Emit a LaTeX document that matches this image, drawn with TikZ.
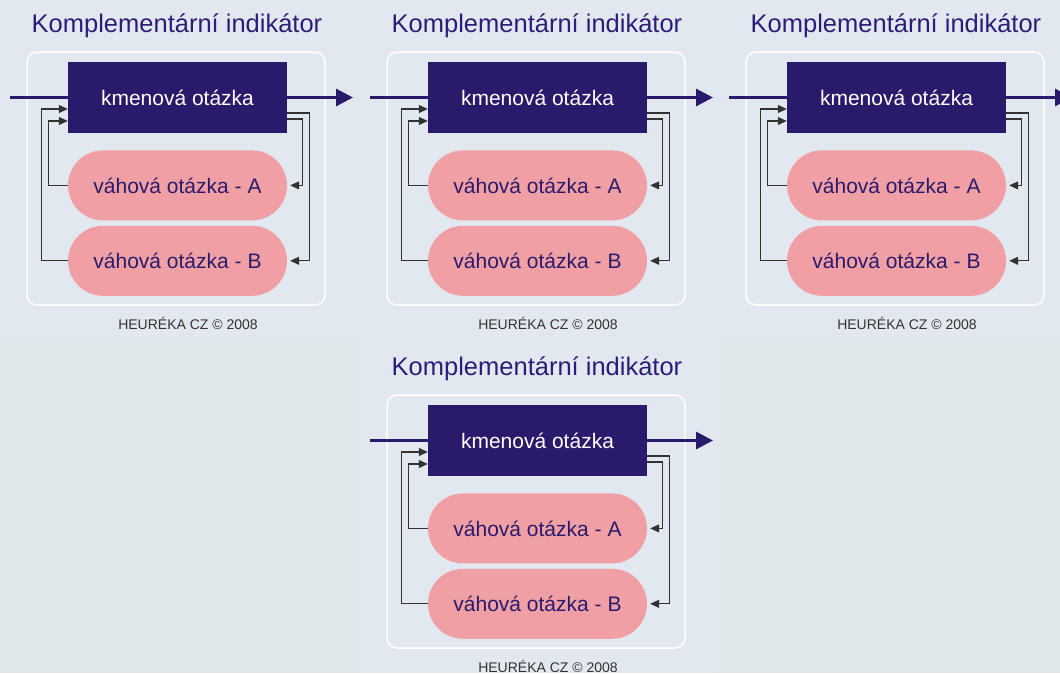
\documentclass[tikz,border=0pt]{standalone}
\usepackage{fontspec}
\setmainfont{Liberation Sans}
\usetikzlibrary{positioning,calc}
\usetikzlibrary{arrows.meta}
\definecolor{stemblue}{RGB}{42,26,108}
\definecolor{titleblue}{RGB}{44,30,120}
\definecolor{weightpink}{RGB}{240,160,164}
\definecolor{panelbg}{RGB}{226,232,240}
\definecolor{outerbg}{RGB}{224,232,235}
\definecolor{loopgray}{RGB}{50,50,50}
\tikzset{
   stembox/.style={rectangle, fill=stemblue, text=white, inner sep=0pt,
      minimum width=219pt, minimum height=71pt,
      font=\fontsize{21}{24}\selectfont},
   weightbox/.style={rectangle, rounded corners=35pt, fill=weightpink,
      text=stemblue, inner sep=0pt, minimum width=219pt, minimum height=70pt,
      font=\fontsize{21}{24}\selectfont},
   paneltitle/.style={text=titleblue, anchor=base, inner sep=0pt,
      font=\fontsize{25.5}{28}\selectfont},
   copyline/.style={text=loopgray, anchor=base, inner sep=0pt,
      font=\fontsize{14}{16}\selectfont},
   inflow/.style={stemblue, line width=3pt},
   outflow/.style={stemblue, line width=3pt, -{Triangle[length=17pt,width=17pt]}},
   loopback/.style={loopgray, line width=1.1pt, -{Triangle[length=9pt,width=8pt]}},
   frame/.style={white, line width=1.5pt, rounded corners=10pt}
}
\begin{document}
   \begin{tikzpicture}[x=1pt,y=-1pt]
      % backgrounds
      \fill[outerbg] (0,0) rectangle (1060,673);
      \useasboundingbox (0,0) rectangle (1060,673);
      \clip (0,0) rectangle (1060,673);
      \fill[panelbg] (0,0)   rectangle (360,339);
      \fill[panelbg] (360,0) rectangle (718,339);
      \fill[panelbg] (718,0) rectangle (1060,339);
      \fill[panelbg] (360,339) rectangle (718,673);

      \foreach \dx/\dy/\p in {0/0/1, 360/0/2, 719/0/3, 360/343/4}{
         \begin{scope}[shift={(\dx,\dy)}]
            \node[paneltitle] (title\p) at (177,32) {Komplementární indikátor};
            \draw[frame] (27,52) rectangle (325,305);

            % stem and weight questions
            \node[stembox] (stem\p) at (177.5,97.5) {kmenová otázka};
            \node[weightbox, below=17pt of stem\p] (wA\p) {váhová otázka - A};
            \node[weightbox, below=5pt of wA\p]    (wB\p) {váhová otázka - B};

            % main flow
            \coordinate (in\p)  at (10,97.5);
            \coordinate (out\p) at (353,97.5);
            \draw[inflow]  (in\p) -- (stem\p);
            \draw[outflow] (stem\p) -- (out\p);

            % loops back to the stem
            \draw[loopback] (wA\p.west) -- ++(-19,0) |- ([yshift=-23.5pt]stem\p.west);
            \draw[loopback] (wB\p.west) -- ++(-26,0) |- ([yshift=-11.5pt]stem\p.west);
            \draw[loopback] ([yshift=-21.5pt]stem\p.east) -- ++(15,0) |- ([xshift=3pt]wA\p.east);
            \draw[loopback] ([yshift=-15.5pt]stem\p.east) -- ++(22,0) |- ([xshift=3pt]wB\p.east);

            \node[copyline] (copy\p) at (188,329) {HEURÉKA CZ © 2008};
         \end{scope}
      }
   \end{tikzpicture}
\end{document}
